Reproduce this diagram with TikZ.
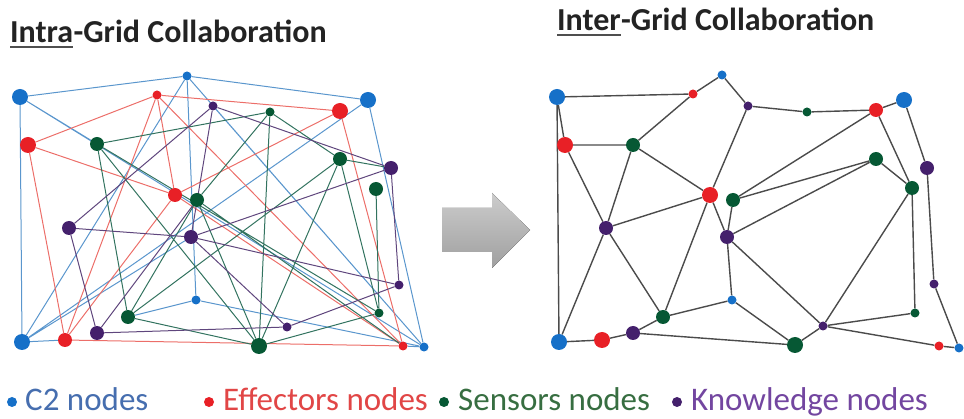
\documentclass[tikz,border=0pt]{standalone}
\usepackage{fontspec}
\setmainfont{Carlito}
\usetikzlibrary{positioning,backgrounds}

\definecolor{ctwo}{RGB}{22,112,200}
\definecolor{effc}{RGB}{232,32,38}
\definecolor{senc}{RGB}{6,88,52}
\definecolor{knowc}{RGB}{68,32,108}
\definecolor{ctwoline}{RGB}{90,150,205}
\definecolor{effline}{RGB}{236,110,105}
\definecolor{senline}{RGB}{50,115,95}
\definecolor{knowline}{RGB}{95,70,125}
\definecolor{gridline}{RGB}{75,75,75}
\definecolor{ctwotext}{RGB}{70,110,175}
\definecolor{efftext}{RGB}{225,70,70}
\definecolor{sentext}{RGB}{55,110,65}
\definecolor{knowtext}{RGB}{115,70,160}
\definecolor{titlec}{RGB}{35,35,35}

\tikzset{
    dot/.style={circle, inner sep=0pt, minimum size=13pt},
    bigdot/.style={dot, minimum size=16pt},
    middot/.style={dot, minimum size=14pt},
    smalldot/.style={dot, minimum size=9pt},
    c2node/.style={fill=ctwo},
    effnode/.style={fill=effc},
    sennode/.style={fill=senc},
    knownode/.style={fill=knowc},
    c2edge/.style={draw=ctwoline, line width=1pt},
    effedge/.style={draw=effline, line width=1pt},
    senedge/.style={draw=senline, line width=1pt},
    knowedge/.style={draw=knowline, line width=1pt},
    gridedge/.style={draw=gridline, line width=1.4pt},
    titletext/.style={inner sep=0pt, anchor=base west, text=titlec, font=\fontsize{32}{38}\selectfont\bfseries},
    legendtext/.style={inner sep=0pt, anchor=base west, font=\fontsize{33}{40}\selectfont},
    legenddot/.style={circle, inner sep=0pt, minimum size=10pt}
}

\begin{document}
\begin{tikzpicture}[x=1pt, y=-1pt]
    \useasboundingbox (0,0) rectangle (964,419);

    % Titles
    \node[titletext] (intraword) at (10,43) {Intra};
    \node[titletext, base right=0pt of intraword] (intrarest) {-Grid Collaboration};
    \node[titletext] (interword) at (557,31) {Inter};
    \node[titletext, base right=0pt of interword] (interrest) {-Grid Collaboration};
    \draw[titlec!80, line width=2pt] ([yshift=-4pt]intraword.base west) -- ([yshift=-4pt]intraword.base east);
    \draw[titlec!80, line width=2pt] ([yshift=-4pt]interword.base west) -- ([yshift=-4pt]interword.base east);

    % Intra-grid nodes
    \node[bigdot, c2node] (lc1) at (20,97) {};
    \node[smalldot, c2node] (lc2) at (187,76) {};
    \node[bigdot, c2node] (lc3) at (368,100) {};
    \node[smalldot, c2node] (lc4) at (196,300) {};
    \node[bigdot, c2node] (lc5) at (22,342) {};
    \node[smalldot, c2node] (lc6) at (424,347) {};
    \node[smalldot, effnode] (le1) at (157,95) {};
    \node[bigdot, effnode] (le2) at (340,111) {};
    \node[bigdot, effnode] (le3) at (28,145) {};
    \node[middot, effnode] (le4) at (175,195) {};
    \node[middot, effnode] (le5) at (65,340) {};
    \node[smalldot, effnode] (le6) at (403,346) {};
    \node[middot, sennode] (ls1) at (97,144) {};
    \node[smalldot, sennode] (ls2) at (270,112) {};
    \node[middot, sennode] (ls3) at (340,159) {};
    \node[middot, sennode] (ls4) at (376,189) {};
    \node[middot, sennode] (ls5) at (197,200) {};
    \node[middot, sennode] (ls6) at (128,317) {};
    \node[smalldot, sennode] (ls7) at (379,313) {};
    \node[bigdot, sennode] (ls8) at (259,346) {};
    \node[smalldot, knownode] (lk1) at (213,106) {};
    \node[middot, knownode] (lk2) at (391,168) {};
    \node[middot, knownode] (lk3) at (69,228) {};
    \node[middot, knownode] (lk4) at (191,237) {};
    \node[smalldot, knownode] (lk5) at (399,285) {};
    \node[middot, knownode] (lk6) at (97,333) {};
    \node[smalldot, knownode] (lk7) at (287,327) {};

    % Inter-grid nodes
    \node[bigdot, c2node] (rc1) at (557,97) {};
    \node[smalldot, c2node] (rc2) at (722,75) {};
    \node[bigdot, c2node] (rc3) at (904,100) {};
    \node[smalldot, c2node] (rc4) at (732,300) {};
    \node[bigdot, c2node] (rc5) at (559,342) {};
    \node[smalldot, c2node] (rc6) at (959,348) {};
    \node[smalldot, effnode] (re1) at (693,94) {};
    \node[bigdot, effnode] (re2) at (565,145) {};
    \node[bigdot, effnode] (re3) at (710,195) {};
    \node[middot, effnode] (re4) at (876,110) {};
    \node[bigdot, effnode] (re5) at (602,340) {};
    \node[smalldot, effnode] (re6) at (939,346) {};
    \node[middot, sennode] (rs1) at (633,145) {};
    \node[middot, sennode] (rs2) at (733,200) {};
    \node[smalldot, sennode] (rs3) at (807,112) {};
    \node[middot, sennode] (rs4) at (876,159) {};
    \node[middot, sennode] (rs5) at (912,188) {};
    \node[middot, sennode] (rs6) at (663,317) {};
    \node[smalldot, sennode] (rs7) at (915,313) {};
    \node[bigdot, sennode] (rs8) at (795,345) {};
    \node[middot, knownode] (rk1) at (606,228) {};
    \node[smalldot, knownode] (rk2) at (748,106) {};
    \node[middot, knownode] (rk3) at (927,168) {};
    \node[middot, knownode] (rk4) at (727,237) {};
    \node[middot, knownode] (rk5) at (633,333) {};
    \node[smalldot, knownode] (rk6) at (934,284) {};
    \node[smalldot, knownode] (rk7) at (823,326) {};

    \begin{scope}[on background layer]
        % Intra-grid links, coloured by node type
        \path[c2edge] (lc1) -- (lc2) (lc1) -- (lc5) (lc1) -- (ls1) (lc1) -- (lc6)
            (lc2) -- (lc3) (lc2) -- (lc5) (lc2) -- (lc4) (lc2) -- (lc6)
            (lc3) -- (lc6) (lc3) -- (lc5) (lc4) -- (lc6) (lc4) -- (ls6)
            (lc5) -- (lk4) (lc5) -- (le5) (lc6) -- (le6) (lc6) -- (lk1);
        \path[effedge] (le1) -- (le2) (le1) -- (le3) (le1) -- (le4) (le1) -- (le6)
            (le1) -- (le5) (le3) -- (le4) (le3) -- (le5) (le2) -- (le4)
            (le2) -- (le6) (le5) -- (le6) (le4) -- (le6) (le4) -- (le5);
        \path[senedge] (ls1) -- (ls2) (ls1) -- (ls6) (ls1) -- (ls8) (ls1) -- (ls7)
            (ls2) -- (ls3) (ls2) -- (ls8) (ls2) -- (ls5) (ls3) -- (ls8)
            (ls3) -- (ls7) (ls4) -- (ls7) (ls5) -- (ls8) (ls5) -- (ls6)
            (ls5) -- (le6) (ls6) -- (ls8) (ls7) -- (ls8) (ls6) -- (ls3)
            (ls3) -- (lk2);
        \path[knowedge] (lk1) -- (lk4) (lk1) -- (lk3) (lk1) -- (lk2) (lk2) -- (lk4)
            (lk2) -- (lk5) (lk3) -- (lk4) (lk3) -- (lk6) (lk4) -- (lk5)
            (lk4) -- (lk7) (lk6) -- (lk7) (lk7) -- (lk5) (lk6) -- (ls5);

        % Inter-grid links
        \path[gridedge] (rc1) -- (re1) (re1) -- (rc2) (rc2) -- (rk2) (rc1) -- (re2)
            (rc1) -- (rc5) (re2) -- (rs1) (re2) -- (rk1) (rs1) -- (re1)
            (rs1) -- (rk1) (rs1) -- (re3) (rk2) -- (re3) (rk2) -- (rs3)
            (rs3) -- (re4) (re4) -- (rc3) (re4) -- (rs2) (re4) -- (rs5)
            (rc3) -- (rk3) (rs4) -- (rs2) (rs4) -- (rk4) (rs4) -- (rs5)
            (rs5) -- (rk7) (rs5) -- (rs7) (rk3) -- (rk6) (rk6) -- (rc6)
            (re6) -- (rc6) (rk7) -- (re6) (rk7) -- (rs7) (rk7) -- (rs8)
            (rk7) -- (rk4) (rc4) -- (rs8) (rk4) -- (rc4) (rs2) -- (rk4)
            (re3) -- (rk4) (re3) -- (rs6) (re3) -- (rk1) (rk1) -- (rs6)
            (rk1) -- (rc5) (rc5) -- (re5) (re5) -- (rk5) (rk5) -- (rs6)
            (rs6) -- (rc4) (rk5) -- (rs8);
    \end{scope}

    % Transition arrow
    \fill[top color=gray!40, bottom color=gray!75] (442,208) -- (492,208) -- (492,193) -- (530,230)
        -- (492,268) -- (492,252) -- (442,252) -- cycle;

    % Legend
    \node[legenddot, fill=ctwo] (legc2dot) at (12,402) {};
    \node[legendtext, text=ctwotext] (legc2) at (25,411) {C2 nodes};
    \node[legenddot, fill=effc] (legeffdot) at (209,402) {};
    \node[legendtext, text=efftext] (legeff) at (223,411) {Effectors nodes};
    \node[legenddot, fill=senc] (legsendot) at (444,402) {};
    \node[legendtext, text=sentext] (legsen) at (458,411) {Sensors nodes};
    \node[legenddot, fill=knowc] (legknowdot) at (677,402) {};
    \node[legendtext, text=knowtext] (legknow) at (691,411) {Knowledge nodes};
\end{tikzpicture}
\end{document}
